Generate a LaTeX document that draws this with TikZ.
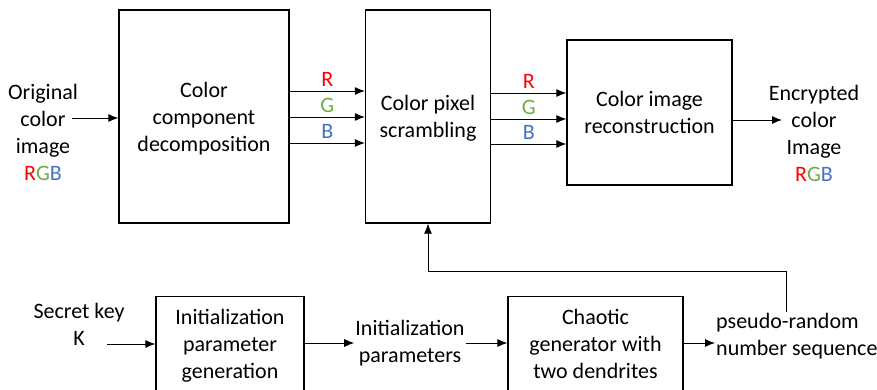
\documentclass[tikz,border=0pt]{standalone}
\usepackage{fontspec}
\setmainfont{Carlito}
\usepackage{tikz}
\usetikzlibrary{arrows.meta, positioning}

\definecolor{rgbr}{RGB}{255,0,0}
\definecolor{rgbg}{RGB}{112,173,71}
\definecolor{rgbb}{RGB}{68,114,196}

\begin{document}
\begin{tikzpicture}[
    x=1pt, y=-1pt,
    >={Latex[length=10pt,width=8pt]},
    font=\fontsize{22}{27}\selectfont,
    block/.style={draw, rectangle, line width=1.3pt, align=center, text depth=0pt},
    lowblock/.style={block, anchor=north, inner ysep=13pt, text height=69pt, text depth=60pt},
    txt/.style={align=center, inner sep=1pt},
    conn/.style={->, line width=0.9pt},
    chan/.style={above=4pt, inner sep=0pt}
]
\useasboundingbox (0,0) rectangle (877,390);

% Top row
\node[block, minimum width=170pt, minimum height=213pt] (decomp) at (204,116.5) {Color\\component\\decomposition};
\node[block, minimum width=125pt, minimum height=213pt] (scramble) at (428,116.5) {Color pixel\\scrambling};
\node[block, minimum width=165pt, minimum height=145pt] (recon) at (649.5,112.5) {Color image\\reconstruction};

\node[txt] (orig) at (43,132.5) {Original\\color\\image\\{\color{rgbr}R}{\color{rgbg}G}{\color{rgbb}B}};
\node[txt] (enc) at (814,133.5) {Encrypted\\color\\Image\\{\color{rgbr}R}{\color{rgbg}G}{\color{rgbb}B}};
\coordinate (origout) at (72,118);
\coordinate (encin) at (782,120);

\draw[conn] (origout) -- (origout -| decomp.west);
\draw[conn] (recon.east |- encin) -- (encin);

% Channels
\foreach \ch/\col/\dy in {R/rgbr/25.5, G/rgbg/-0.5, B/rgbb/-26.5}{
  \draw[conn] ([yshift=\dy pt]decomp.east) -- ([yshift=\dy pt]decomp.east -| scramble.west) node[midway, chan, text=\col] {\ch};
}
\foreach \ch/\col/\dy in {R/rgbr/23.5, G/rgbg/-2.5, B/rgbb/-27.5}{
  \draw[conn] ([yshift=\dy pt]scramble.east) -- ([yshift=\dy pt]scramble.east -| recon.west) node[midway, chan, text=\col] {\ch};
}

% Bottom row
\node[txt] (key) at (79,324.5) {Secret key\\K};
\node[lowblock, minimum width=148pt] (initgen) at (230,296) {Initialization\\parameter\\generation};
\node[txt] (iparams) at (410,343) {Initialization\\parameters};
\node[lowblock, minimum width=175pt] (chaos) at (595.5,296) {Chaotic\\generator with\\two dendrites};
\node[txt, anchor=west, align=left] (prng) at (715,336) {pseudo-random\\number sequence};
\coordinate (keyout) at (107,344);

\draw[conn] (keyout) -- (keyout -| initgen.west);
\draw[conn] (iparams.west -| initgen.east) -- (iparams.west);
\draw[conn] (iparams.east) -- (iparams.east -| chaos.west);
\draw[conn] (chaos.east |- iparams.east) -- (prng.west |- iparams.east);

% Feedback
\draw[conn, line width=0.7pt] ([xshift=-10.5pt]prng.north) -- ++(0,-41) -| (scramble.south);

\end{tikzpicture}
\end{document}
